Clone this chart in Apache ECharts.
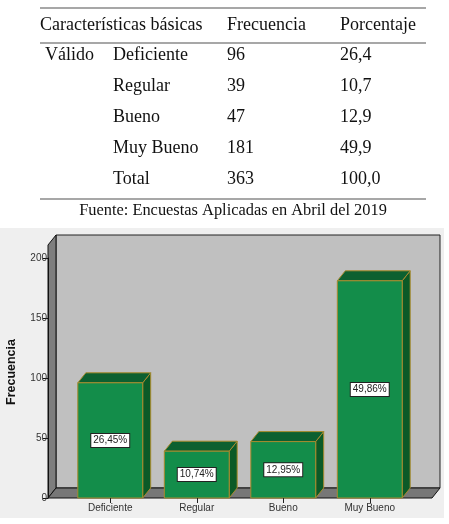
<!DOCTYPE html>
<html><head><meta charset="utf-8">
<script src="https://cdn.jsdelivr.net/npm/echarts@6/dist/echarts.min.js"></script>
<style>html,body{margin:0;padding:0;background:#fff}#c{width:449px;height:524px}</style>
</head><body><div id="c"></div>
<script>
// ---- data ----
var tableHeader = ['Características básicas', 'Frecuencia', 'Porcentaje'];
var tableGroup = 'Válido';
var tableRows = ['Deficiente', 'Regular', 'Bueno', 'Muy Bueno', 'Total'];
var tableFreq = ['96', '39', '47', '181', '363'];
var tablePct = ['26,4', '10,7', '12,9', '49,9', '100,0'];
var caption = 'Fuente: Encuestas Aplicadas en Abril del 2019';

var categories = ['Deficiente', 'Regular', 'Bueno', 'Muy Bueno'];
var frecuencia = [96, 39, 47, 181];
var pctLabels = ['26,45%', '10,74%', '12,95%', '49,86%'];
var yTicks = [0, 50, 100, 150, 200];
var yTitle = 'Frecuencia';

// ---- layout constants ----
var GL = 67, GR = 36, GT = 258, GB = 26;
var AX = 48, BASE = 498;       // front axis position
var DX = 8, DY = 10;           // 3D depth
var WALL_TOP = 235, WALL_RIGHT = 440;

var serif = '"Liberation Serif","Times New Roman",serif';
var sans = 'Arial, "Liberation Sans", sans-serif';
var g = [];
// chart panel background
g.push({type:'rect', z:-30, shape:{x:0,y:228,width:444,height:290}, style:{fill:'#efefef'}});
// back wall
g.push({type:'rect', z:-20, shape:{x:AX+DX,y:WALL_TOP,width:WALL_RIGHT-AX-DX,height:BASE-DY-WALL_TOP}, style:{fill:'#c0c0c0', stroke:'#222', lineWidth:1}});
// left wall
g.push({type:'polygon', z:-19, shape:{points:[[AX,WALL_TOP+DY],[AX+DX,WALL_TOP],[AX+DX,BASE-DY],[AX,BASE]]}, style:{fill:'#7e7e7e', stroke:'#111', lineWidth:1}});
// floor
g.push({type:'polygon', z:-19, shape:{points:[[AX,BASE],[AX+DX,BASE-DY],[WALL_RIGHT,BASE-DY],[WALL_RIGHT-DX,BASE]]}, style:{fill:'#777', stroke:'#111', lineWidth:1}});

// table lines
[8, 43, 199].forEach(function(y){
  g.push({type:'line', shape:{x1:40,y1:y,x2:426,y2:y}, style:{stroke:'#8a8a8a', lineWidth:1.5}});
});
var colX = [40, 227, 340];
tableHeader.forEach(function(t,i){
  g.push({type:'text', style:{text:t, x:colX[i], y:25, font:'18px '+serif, fill:'#111', verticalAlign:'middle'}});
});
var rowY = [55, 86, 117, 148, 179];
g.push({type:'text', style:{text:tableGroup, x:45, y:rowY[0], font:'18px '+serif, fill:'#111', verticalAlign:'middle'}});
tableRows.forEach(function(t,i){
  g.push({type:'text', style:{text:t, x:113, y:rowY[i], font:'18px '+serif, fill:'#111', verticalAlign:'middle'}});
  g.push({type:'text', style:{text:tableFreq[i], x:227, y:rowY[i], font:'18px '+serif, fill:'#111', verticalAlign:'middle'}});
  g.push({type:'text', style:{text:tablePct[i], x:340, y:rowY[i], font:'18px '+serif, fill:'#111', verticalAlign:'middle'}});
});
g.push({type:'text', style:{text:caption, x:233, y:211, font:'16.4px '+serif, fill:'#111', align:'center', verticalAlign:'middle'}});

var chart = echarts.init(document.getElementById('c'));
chart.setOption({
  animation:false,
  backgroundColor:'#fff',
  graphic: g,
  grid:{left:GL, right:GR, top:GT, bottom:GB, containLabel:false, outerBoundsMode:'none'},
  xAxis:{
    type:'category', data:categories, z:5,
    axisLine:{show:false},
    axisTick:{show:true, alignWithLabel:true, length:5, lineStyle:{color:'#222'}},
    axisLabel:{fontFamily:sans, fontSize:10, color:'#333', margin:5}
  },
  yAxis:{
    type:'value', min:0, max:200, interval:50, offset:GL-AX, z:5,
    axisLine:{show:true, lineStyle:{color:'#111'}},
    axisTick:{show:true, length:5, lineStyle:{color:'#111'}},
    axisLabel:{fontFamily:sans, fontSize:10, color:'#333', margin:1, formatter:function(v){return String(v);}},
    splitLine:{show:false},
    name:yTitle, nameLocation:'middle', nameRotate:90, nameGap:30, nameMoveOverlap:false,
    nameTextStyle:{fontFamily:sans, fontWeight:'bold', fontSize:12.5, color:'#111', padding:[0,0,0,12]}
  },
  series:[{
    type:'custom',
    data: frecuencia.map(function(v,i){return [i, v];}),
    renderItem:function(params, api){
      var i = api.value(0), v = api.value(1);
      var top = api.coord([i, v]), base = api.coord([i, 0]);
      var w = api.size([1,0])[0]*0.75;
      var l = top[0]-w/2, r = top[0]+w/2, t = top[1], b = base[1];
      var edge = '#a88a2e';
      return {type:'group', children:[
        {type:'polygon', shape:{points:[[r,t],[r+DX,t-DY],[r+DX,b-DY],[r,b]]}, style:{fill:'#0b5a27', stroke:edge, lineWidth:1}},
        {type:'polygon', shape:{points:[[l,t],[l+DX,t-DY],[r+DX,t-DY],[r,t]]}, style:{fill:'#0c6030', stroke:edge, lineWidth:1}},
        {type:'rect', shape:{x:l, y:t, width:w, height:b-t}, style:{fill:'#138d4a', stroke:edge, lineWidth:1}},
        {type:'text', style:{text:pctLabels[params.dataIndex], x:(l+r)/2, y:(t+b)/2, align:'center', verticalAlign:'middle',
          font:'10px '+sans, fill:'#222', backgroundColor:'#fff', borderColor:'#222', borderWidth:1, padding:[2,2,1,2]}}
      ]};
    }
  }]
});
</script>
</body></html>
